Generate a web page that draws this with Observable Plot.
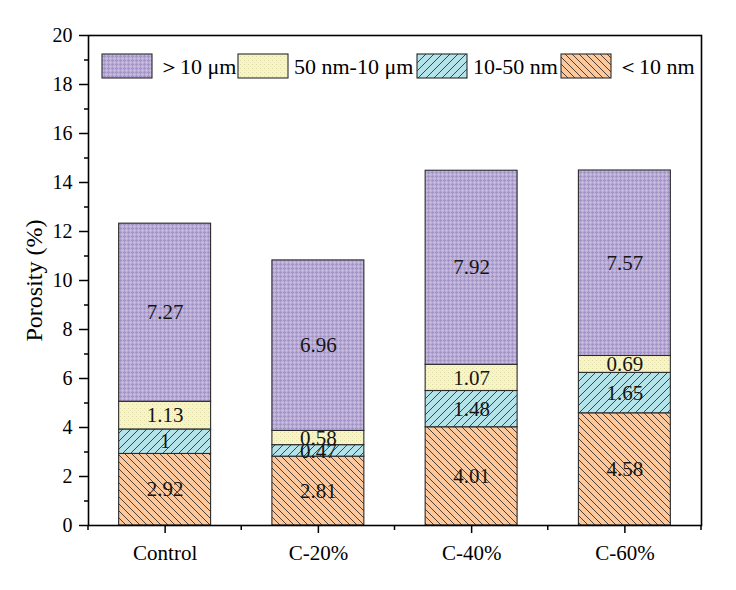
<!DOCTYPE html>
<html><head><meta charset="utf-8">
<script src="https://cdn.jsdelivr.net/npm/d3@7"></script>
<script src="https://cdn.jsdelivr.net/npm/@observablehq/plot@0.6"></script>
<style>body{margin:0;background:#fff}</style>
</head><body><div id="chart"></div>
<script>
// ---- data ----
const categories = ["Control", "C-20%", "C-40%", "C-60%"];
const seriesNames = ["<10 nm", "10-50 nm", "50 nm-10 μm", ">10 μm"]; // bottom to top
const lt10nm   = [2.92, 2.81, 4.01, 4.58];
const nm10to50 = [1, 0.47, 1.48, 1.65];
const nm50to10um = [1.13, 0.58, 1.07, 0.69];
const gt10um   = [7.27, 6.96, 7.92, 7.57];
const yTicks = [0, 2, 4, 6, 8, 10, 12, 14, 16, 18, 20];
const yMinorTicks = [1, 3, 5, 7, 9, 11, 13, 15, 17, 19];
const legendLabels = ["＞10 μm", "50 nm-10 μm", "10-50 nm", "＜10 nm"];
const legendSeries = [">10 μm", "50 nm-10 μm", "10-50 nm", "<10 nm"];
const yLabel = "Porosity (%)";

const seriesValues = [lt10nm, nm10to50, nm50to10um, gt10um];
const patternId = {"<10 nm": "pLt10", "10-50 nm": "p1050", "50 nm-10 μm": "pMid", ">10 μm": "pGt"};

const table = [];
categories.forEach((c, i) => {
  seriesNames.forEach((s, j) => {
    const v = seriesValues[j][i];
    table.push({cat: c, series: s, value: v, label: String(v), fill: `url(#${patternId[s]})`});
  });
});

const font = "'Liberation Serif', 'Times New Roman', Times, serif";

const chart = Plot.plot({
  width: 736, height: 590,
  marginLeft: 88, marginRight: 35, marginTop: 35, marginBottom: 65,
  style: {fontFamily: font, fontSize: "20px", color: "#000", background: "#fff", overflow: "visible"},
  x: {domain: categories, paddingInner: 0.4, paddingOuter: 0.2, round: false, label: null},
  y: {domain: [0, 20], label: null},
  color: {type: "identity"},
  marks: [
    Plot.barY(table, {x: "cat", y: "value", z: "series", fill: "fill", stroke: "#2a2a2a", strokeWidth: 1.1, inset: 0}),
    Plot.text(table, Plot.stackY({x: "cat", y: "value", z: "series", text: "label", fontSize: 21, fill: "#151515"})),
    Plot.axisY({ticks: yTicks, tickSize: 9, tickPadding: 7, tickFormat: d => String(d), label: null, fontSize: 20, stroke: "#000", strokeWidth: 1.5}),
    Plot.axisY({ticks: yMinorTicks, tickSize: 4, tickFormat: () => "", label: null, stroke: "#000", strokeWidth: 1.5}),
    Plot.axisX({tickSize: 8, tickPadding: 12, label: null, fontSize: 21, stroke: "#000", strokeWidth: 1.5}),
    Plot.text([yLabel], {text: d => d, frameAnchor: "left", textAnchor: "middle", dx: -54, rotate: -90, fontSize: 24, fill: "#000"}),
    Plot.frame({stroke: "#000", strokeWidth: 1.6})
  ]
});

const svg = d3.select(chart);
const defs = svg.insert("defs", ":first-child");

// purple fine grid
let p = defs.append("pattern").attr("id", "pGt").attr("patternUnits", "userSpaceOnUse").attr("width", 4).attr("height", 4);
p.append("rect").attr("width", 4).attr("height", 4).attr("fill", "#bbaed8");
p.append("path").attr("d", "M0.5,0V4M0,0.5H4").attr("stroke", "#a394c8").attr("stroke-width", 1);
p.append("path").attr("d", "M2.5,0V4M0,2.5H4").attr("stroke", "#c7bce0").attr("stroke-width", 0.6);

// yellow dotted
p = defs.append("pattern").attr("id", "pMid").attr("patternUnits", "userSpaceOnUse").attr("width", 4).attr("height", 4);
p.append("rect").attr("width", 4).attr("height", 4).attr("fill", "#f7f4c6");
p.append("rect").attr("x", 0).attr("y", 0).attr("width", 1).attr("height", 1).attr("fill", "#dfd9a4");
p.append("rect").attr("x", 2).attr("y", 2).attr("width", 1).attr("height", 1).attr("fill", "#e9e4b6");

// cyan forward diagonal
p = defs.append("pattern").attr("id", "p1050").attr("patternUnits", "userSpaceOnUse").attr("width", 8).attr("height", 8);
p.append("rect").attr("width", 8).attr("height", 8).attr("fill", "#b4e3e9");
p.append("path").attr("d", "M0,8L8,0M-2,2L2,-2M6,10L10,6").attr("stroke", "#1e1e1e").attr("stroke-width", 0.8);

// orange back diagonal
p = defs.append("pattern").attr("id", "pLt10").attr("patternUnits", "userSpaceOnUse").attr("width", 7).attr("height", 7);
p.append("rect").attr("width", 7).attr("height", 7).attr("fill", "#fdc99c");
p.append("path").attr("d", "M0,0L7,7M-2,5L2,9M5,-2L9,2").attr("stroke", "#1e1e1e").attr("stroke-width", 0.8);

// minor x ticks at band boundaries
const xs = chart.scale("x");
const ys = chart.scale("y");
const y0 = ys.apply(0);
const gx = svg.append("g").attr("stroke", "#000").attr("stroke-width", 1.5);
for (let i = 0; i <= categories.length; i++) {
  const px = xs.range[0] + i * xs.step;
  gx.append("line").attr("x1", px).attr("x2", px).attr("y1", y0).attr("y2", y0 + 5);
}

// legend inside plot area
const legendX = [102, 238, 417, 561];
const lg = svg.append("g").attr("font-family", font).attr("font-size", 22).attr("text-anchor", "start");
legendSeries.forEach((s, i) => {
  lg.append("rect").attr("x", legendX[i]).attr("y", 54).attr("width", 50).attr("height", 24)
    .attr("fill", `url(#${patternId[s]})`).attr("stroke", "#2a2a2a").attr("stroke-width", 1.1);
  lg.append("text").attr("x", legendX[i] + 56).attr("y", 66).attr("dy", "0.35em")
    .attr("text-anchor", "start").attr("fill", "#000").text(legendLabels[i]);
});

document.getElementById("chart").appendChild(chart);
</script>
</body></html>
